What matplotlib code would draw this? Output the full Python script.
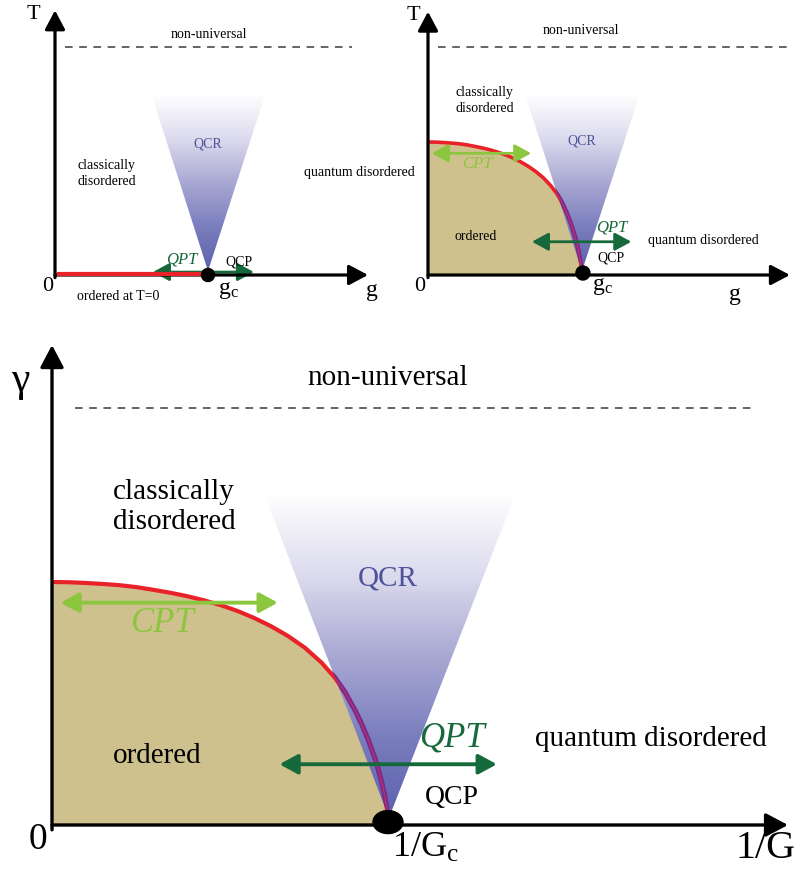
import numpy as np
import matplotlib
matplotlib.use('Agg')
import matplotlib.pyplot as plt
from matplotlib.patches import Polygon, Ellipse
from matplotlib.colors import LinearSegmentedColormap

plt.rcParams['font.family'] = ['Liberation Serif', 'DejaVu Serif']
plt.rcParams['mathtext.fontset'] = 'custom'
plt.rcParams['mathtext.rm'] = 'Liberation Serif'
plt.rcParams['mathtext.it'] = 'Liberation Serif:italic'

# phase boundary of the ordered phase (g/gc, T/Tc)
bound_g = [0.00, 0.05, 0.10, 0.15, 0.20, 0.25, 0.30, 0.35, 0.40, 0.45, 0.50,
           0.55, 0.60, 0.65, 0.70, 0.75, 0.80, 0.84, 0.87, 0.90, 0.92, 0.94,
           0.96, 0.975, 0.985, 0.993, 1.00]
bound_T = [1.000, 0.999, 0.996, 0.992, 0.987, 0.979, 0.968, 0.956, 0.942, 0.925, 0.905,
           0.881, 0.852, 0.818, 0.778, 0.730, 0.668, 0.605, 0.545, 0.470, 0.412, 0.345,
           0.268, 0.195, 0.135, 0.075, 0.0]

# quantum critical fan: top-left, top-right, apex
qcr_g = [0.63, 1.375, 1.0]
qcr_T = [1.36, 1.36, 0.03]

# crossover to the non-universal regime
nonuniv_T = 1.715

# classical / quantum transition paths
cpt_g = [0.025, 0.670]
cpt_T = 0.915
qpt_g = [0.675, 1.320]
qpt_T = 0.25
qpt_T0 = 0.022   # T=0 case

red = '#e9222a'
tan = '#cfc18e'
purple = '#7a2b8e'
ltgreen = '#8cc63f'
dkgreen = '#16693a'
qcrblue = '#4d5299'

fan_cmap = LinearSegmentedColormap.from_list(
    'fan', ['#ffffff', '#dcdbee', '#a9a8d3', '#7a7ebd', '#5b61ad'])

W, H = 800, 875
fig = plt.figure(figsize=(W / 100, H / 100), dpi=100)


def panel(box, origin, scale):
    l, t, r, b = box
    ax = fig.add_axes([l / W, 1 - b / H, (r - l) / W, (b - t) / H])
    lims = ((l - origin[0]) / scale[0], (r - origin[0]) / scale[0],
            (origin[1] - b) / scale[1], (origin[1] - t) / scale[1])
    ax.axis('off')
    return ax, lims


def finish(ax, lims):
    ax.set_xlim(lims[0], lims[1])
    ax.set_ylim(lims[2], lims[3])


def axes_arrows(ax, xmax, ymax, lw, ms, ymin=-0.02):
    style = '-|>,head_length=0.68,head_width=0.36'
    ax.annotate('', xy=(xmax, 0), xytext=(0, 0),
                arrowprops=dict(arrowstyle=style, mutation_scale=ms, lw=lw,
                                color='k', shrinkA=0, shrinkB=0), zorder=6)
    ax.annotate('', xy=(0, ymax), xytext=(0, ymin),
                arrowprops=dict(arrowstyle=style, mutation_scale=ms, lw=lw,
                                color='k', shrinkA=0, shrinkB=0), zorder=6)


def double_arrow(ax, g, T, color, lw, ms):
    ax.annotate('', xy=(g[1], T), xytext=(g[0], T),
                arrowprops=dict(arrowstyle='<|-|>,head_length=0.55,head_width=0.3',
                                mutation_scale=ms, lw=lw, color=color,
                                shrinkA=0, shrinkB=0), zorder=5)


def fan(ax):
    poly = Polygon(np.column_stack([qcr_g, qcr_T]), closed=True,
                   fc='none', ec='none')
    ax.add_patch(poly)
    grad = np.linspace(1, 0, 256)[:, None]
    im = ax.imshow(grad, cmap=fan_cmap, origin='lower', aspect='auto',
                   extent=[min(qcr_g), max(qcr_g), min(qcr_T), max(qcr_T)],
                   interpolation='bilinear', zorder=2)
    im.set_clip_path(poly)
    return poly


def boundary(ax, poly, lw):
    ax.fill_between(bound_g, bound_T, 0, color=tan, lw=0, zorder=1)
    ax.plot(bound_g, bound_T, color=red, lw=lw, zorder=3,
            solid_capstyle='butt', solid_joinstyle='round')
    ln, = ax.plot(bound_g, bound_T, color=purple, lw=lw * 1.25, zorder=4,
                  solid_joinstyle='round')
    ln.set_clip_path(poly)
    ln2, = ax.plot(bound_g, bound_T, color='#d7325a', lw=0.6, zorder=4)
    ln2.set_clip_path(poly)


def dashed(ax, g0, g1):
    ax.plot([g0, g1], [nonuniv_T, nonuniv_T], color='#3a3a3a', lw=1.1,
            ls=(0, (5, 4.3)), zorder=3)


def label(ax, x, y, s, size, ha='center', **kw):
    ax.text(x, y, s, fontsize=size, ha=ha, va='center', zorder=8, **kw)


# ---- T=0 transition only ----
ax1, lim1 = panel((0, 0, 400, 310), (55, 275), (153, 133))
fan(ax1)
dashed(ax1, 0.065, 1.94)
ax1.plot([0.013, 1.0], [0.006, 0.006], color=red, lw=3, zorder=7,
         solid_capstyle='butt')
axes_arrows(ax1, 2.046, 1.99, lw=2.3, ms=17)
double_arrow(ax1, [0.64, 1.30], qpt_T0, dkgreen, 2.0, 18)
ax1.add_patch(Ellipse((1.0, 0.0), 13 / 153, 13 / 133, color='k', zorder=8))
label(ax1, -0.144, 1.955, 'T', 16)
label(ax1, 1.007, 1.81, 'non-universal', 10)
label(ax1, 0.144, 0.76, 'classically\ndisordered', 10, ha='left', linespacing=1.3)
label(ax1, 1.0, 0.985, 'QCR', 10, color=qcrblue)
label(ax1, 1.627, 0.774, 'quantum disordered', 10, ha='left')
label(ax1, 0.83, 0.113, 'QPT', 12, style='italic', color=dkgreen)
label(ax1, 1.203, 0.098, 'QCP', 10)
label(ax1, -0.046, -0.09, '0', 16)
label(ax1, 1.065, -0.113, r'g$_{\mathrm{c}}$', 17, ha='left')
label(ax1, 2.07, -0.113, 'g', 17)
label(ax1, 0.144, -0.165, 'ordered at T=0', 10, ha='left')
finish(ax1, lim1)

# ---- finite-temperature order ----
ax2, lim2 = panel((400, 0, 800, 310), (428, 275), (154, 133))
p2 = fan(ax2)
boundary(ax2, p2, 2.6)
dashed(ax2, 0.065, 2.35)
double_arrow(ax2, cpt_g, cpt_T, ltgreen, 2.0, 18)
double_arrow(ax2, qpt_g, qpt_T, dkgreen, 2.0, 18)
axes_arrows(ax2, 2.35, 1.98, lw=2.3, ms=17)
ax2.add_patch(Ellipse((1.006, 0.015), 14 / 154, 14 / 133, color='k', zorder=8))
label(ax2, -0.097, 1.95, 'T', 16)
label(ax2, 0.994, 1.835, 'non-universal', 10)
label(ax2, 0.18, 1.31, 'classically\ndisordered', 10, ha='left', linespacing=1.3)
label(ax2, 1.0, 1.007, 'QCR', 10, color=qcrblue)
label(ax2, 0.318, 0.835, 'CPT', 12, style='italic', color=ltgreen)
label(ax2, 0.312, 0.286, 'ordered', 10)
label(ax2, 1.195, 0.36, 'QPT', 12, style='italic', color=dkgreen)
label(ax2, 1.19, 0.128, 'QCP', 10)
label(ax2, 1.786, 0.263, 'quantum disordered', 10)
label(ax2, -0.052, -0.083, '0', 16)
label(ax2, 1.065, -0.09, r'g$_{\mathrm{c}}$', 17, ha='left')
label(ax2, 1.99, -0.15, 'g', 17)
finish(ax2, lim2)

# ---- dissipative version ----
ax3, lim3 = panel((0, 330, 800, 875), (52, 825), (337, 243))
p3 = fan(ax3)
boundary(ax3, p3, 3.0)
dashed(ax3, 0.068, 2.086)
double_arrow(ax3, cpt_g, cpt_T, ltgreen, 2.8, 20)
double_arrow(ax3, qpt_g, qpt_T, dkgreen, 2.8, 20)
axes_arrows(ax3, 2.184, 1.975, lw=2.4, ms=20)
ax3.add_patch(Ellipse((0.997, 0.012), 30 / 337, 23 / 243, color='k', zorder=8))
label(ax3, -0.095, 1.83, 'γ', 30)
label(ax3, 0.997, 1.84, 'non-universal', 21)
label(ax3, 0.181, 1.309, 'classically\ndisordered', 21, ha='left', linespacing=1.2)
label(ax3, 0.997, 1.016, 'QCR', 21, color=qcrblue)
label(ax3, 0.326, 0.831, 'CPT', 25, style='italic', color=ltgreen)
label(ax3, 0.312, 0.284, 'ordered', 21)
label(ax3, 1.187, 0.358, 'QPT', 25, style='italic', color=dkgreen)
label(ax3, 1.187, 0.115, 'QCP', 20)
label(ax3, 1.777, 0.354, 'quantum disordered', 21)
label(ax3, -0.043, -0.062, '0', 27)
label(ax3, 1.009, -0.095, r'1/G$_{\mathrm{c}}$', 26, ha='left')
label(ax3, 2.116, -0.095, '1/G', 29)
finish(ax3, lim3)

fig.savefig('out.png', dpi=100)
